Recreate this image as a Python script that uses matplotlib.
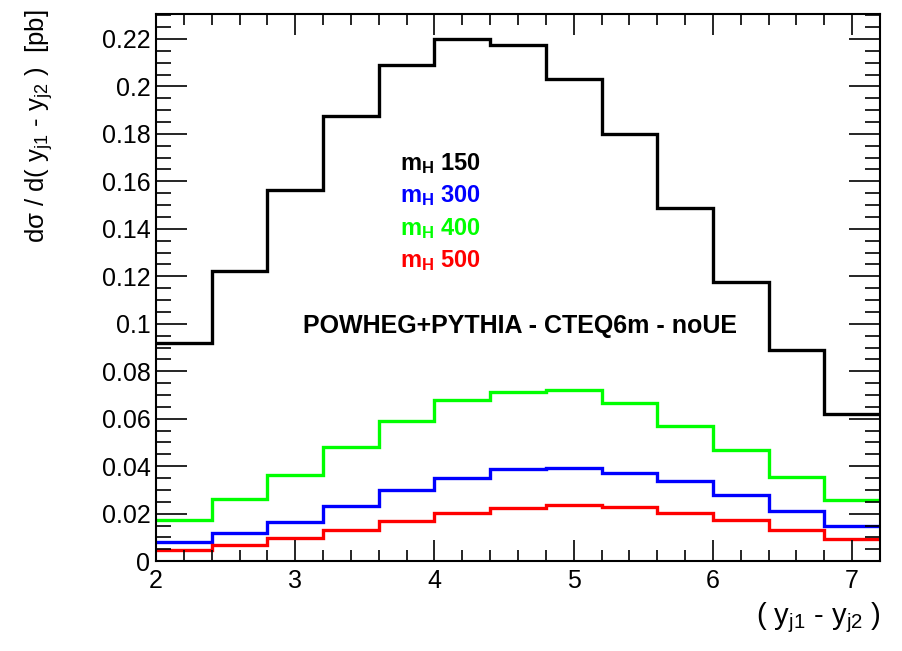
import matplotlib
matplotlib.use('Agg')
import matplotlib.pyplot as plt
from matplotlib.ticker import MultipleLocator

plt.rcParams['font.family'] = ['Liberation Sans', 'DejaVu Sans']
plt.rcParams['mathtext.fontset'] = 'custom'
plt.rcParams['mathtext.rm'] = 'Liberation Sans'
plt.rcParams['mathtext.bf'] = 'Liberation Sans:bold'
plt.rcParams['mathtext.default'] = 'regular'

# bin edges of (y_j1 - y_j2)
edges = [2.0, 2.4, 2.8, 3.2, 3.6, 4.0, 4.4, 4.8, 5.2, 5.6, 6.0, 6.4, 6.8, 7.2]

# dsigma/d(dy) [pb]
mh150 = [0.0918, 0.1222, 0.1563, 0.1874, 0.2089, 0.2200, 0.2175, 0.2032,
         0.1800, 0.1487, 0.1178, 0.0890, 0.0618]
mh300 = [0.0081, 0.0117, 0.0167, 0.0232, 0.0300, 0.0351, 0.0387, 0.0393,
         0.0373, 0.0336, 0.0277, 0.0213, 0.0149]
mh400 = [0.0173, 0.0260, 0.0365, 0.0479, 0.0589, 0.0681, 0.0713, 0.0720,
         0.0665, 0.0571, 0.0470, 0.0355, 0.0257]
mh500 = [0.0045, 0.0066, 0.0096, 0.0133, 0.0168, 0.0203, 0.0226, 0.0235,
         0.0230, 0.0201, 0.0173, 0.0133, 0.0094]

series = [(mh150, 'black', '150'), (mh300, 'blue', '300'),
          (mh400, '#00ff00', '400'), (mh500, 'red', '500')]

fig = plt.figure(figsize=(9.02, 6.51), dpi=100)
ax = fig.add_axes([0.173, 0.138, 0.8026, 0.8405])

for vals, col, lab in series:
    ax.stairs(vals, edges, baseline=None, color=col, linewidth=2.4)

ax.set_xlim(2, 7.2)
ax.set_ylim(0, 0.2305)
ax.xaxis.set_major_locator(MultipleLocator(1))
ax.xaxis.set_minor_locator(MultipleLocator(0.2))
ax.yaxis.set_minor_locator(MultipleLocator(0.005))
ax.set_yticks([0, 0.02, 0.04, 0.06, 0.08, 0.1, 0.12, 0.14, 0.16, 0.18, 0.2, 0.22])
ax.set_yticklabels(['0', '0.02', '0.04', '0.06', '0.08', '0.1', '0.12', '0.14',
                    '0.16', '0.18', '0.2', '0.22'])

ax.tick_params(which='both', direction='in', top=True, right=True, labelsize=18)
ax.tick_params(axis='y', which='major', length=22, width=1.2, pad=4)
ax.tick_params(axis='y', which='minor', length=11, width=1.2)
ax.tick_params(axis='x', which='major', length=15, width=1.2, pad=6)
ax.tick_params(axis='x', which='minor', length=8, width=1.2)
for sp in ax.spines.values():
    sp.set_linewidth(1.5)

# legend-like labels
ys = [0.739, 0.690, 0.639, 0.590]
for (vals, col, lab), yy in zip(series, ys):
    fig.text(0.443, yy, r'm$_\mathbf{H}$ ' + lab, color=col, fontsize=17,
             fontweight='bold', ha='left', va='baseline')

fig.text(0.576, 0.4885, 'POWHEG+PYTHIA - CTEQ6m - noUE', fontsize=18,
         fontweight='bold', ha='center', va='baseline')

fig.text(0.043, 0.985, r'd$\sigma$ / d( y$_{j1}$ - y$_{j2}$ )  [pb]', rotation=90,
         fontsize=18.5, ha='center', va='top')
fig.text(0.976, 0.051, r'( y$_{j1}$ - y$_{j2}$ )', fontsize=21,
         ha='right', va='center')

fig.savefig('out.png', dpi=100)
